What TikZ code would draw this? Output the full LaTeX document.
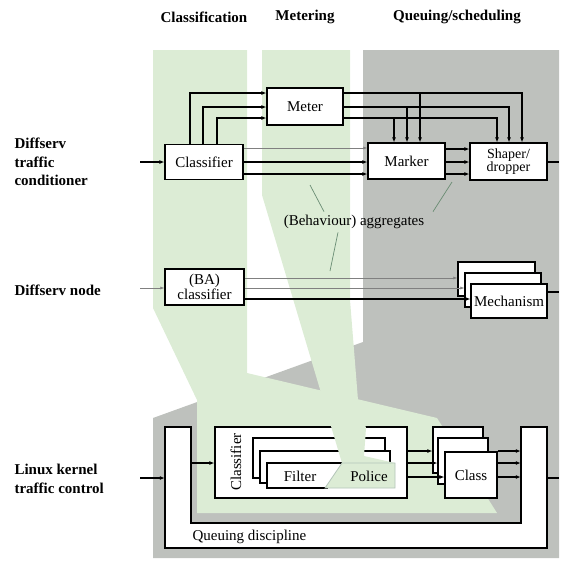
\documentclass[tikz,border=0pt]{standalone}
\usepackage{fontspec}
\setmainfont{Liberation Serif}
\usetikzlibrary{arrows.meta}
\definecolor{bandgreen}{RGB}{220,236,213}
\definecolor{bandgray}{RGB}{190,193,189}
\definecolor{ptrgreen}{RGB}{105,140,115}

\begin{document}
\begin{tikzpicture}[x=1pt,y=-1pt,
  font=\fontsize{15}{16}\selectfont,
  box/.style={draw,line width=1.2pt,fill=white,inner sep=1pt},
  lbl/.style={font=\fontsize{15}{18.5}\selectfont\bfseries,align=left,anchor=west},
  ttl/.style={font=\fontsize{15}{16}\selectfont\bfseries},
  arr/.style={line width=1.2pt,-{Latex[length=5pt,width=4pt]}},
  farr/.style={line width=0.6pt,draw=gray,-{Latex[length=4pt,width=3pt]}},
  ptr/.style={ptrgreen,line width=0.7pt}]
\useasboundingbox (0,0) rectangle (562,560);

% bands
\fill[bandgray] (363,50) -- (559,50) -- (559,558) -- (153,558) -- (153,418) -- (363,342) -- cycle;
\fill[bandgreen] (153,50) -- (247,50) -- (247,373) -- (437,418) -- (497,513) -- (197,513) -- (197,400) -- (153,308) -- cycle;
\fill[bandgreen] (262,50) -- (350,50) -- (350,300) -- (358,400) -- (366,428) -- (364,456) -- (395,463) -- (342,463) -- (262,195) -- cycle;

\node[ttl] (tcl) at (204,17) {Classification};
\node[ttl] (tme) at (305,17) {Metering};
\node[ttl] (tqs) at (457,17) {Queuing/scheduling};

\node[lbl] (ldc) at (11,162) {Diffserv\\traffic\\conditioner};
\node[lbl] (ldn) at (11,290) {Diffserv node};
\node[lbl] (llk) at (11,479) {Linux kernel\\traffic control};

% traffic conditioner
\node[box,minimum width=78pt,minimum height=35pt] (cls) at (204,162) {Classifier};
\node[box,minimum width=76pt,minimum height=37pt] (meter) at (305,106.5) {Meter};
\node[box,minimum width=77pt,minimum height=36pt] (mark) at (406.5,161) {Marker};
\node[box,minimum width=77pt,minimum height=37pt,align=center,
  font=\fontsize{14}{12}\selectfont] (shaper) at (508.5,161.5) {Shaper/\\dropper};

\draw[arr] (cls.north -| 190,0) |- (meter.west |- 0,93);
\draw[arr] (cls.north -| 203,0) |- (meter.west |- 0,107);
\draw[arr] (cls.north -| 217,0) |- (meter.west |- 0,118);
\draw[arr] (meter.east |- 0,93) -| (shaper.north -| 522,0);
\draw[arr] (meter.east |- 0,107) -| (shaper.north -| 509,0);
\draw[arr] (meter.east |- 0,118) -| (shaper.north -| 497,0);
\coordinate (j1) at (420,93);
\coordinate (j2) at (407,107);
\coordinate (j3) at (394,118);
\draw[arr] (j1) -- (mark.north -| j1);
\draw[arr] (j2) -- (mark.north -| j2);
\draw[arr] (j3) -- (mark.north -| j3);

\draw[farr] (cls.east |- 0,148) -- (mark.west |- 0,148);
\draw[arr] (cls.east |- 0,162) -- (mark.west |- 0,162);
\draw[arr] (cls.east |- 0,174) -- (mark.west |- 0,174);
\draw[arr] (mark.east |- 0,149) -- (shaper.west |- 0,149);
\draw[arr] (mark.east |- 0,162) -- (shaper.west |- 0,162);
\draw[arr] (mark.east |- 0,174) -- (shaper.west |- 0,174);
\coordinate (in1) at (140,162);
\coordinate (out1) at (559,162);
\draw[arr] (in1) -- (cls);
\draw[line width=1.2pt] (shaper.east |- out1) -- (out1);

\node (agg) at (354,222) {(Behaviour) aggregates};
\coordinate (p1) at (310,185);
\coordinate (p2) at (452,182);
\coordinate (p3) at (330,271);
\draw[ptr] (agg.north -| 324,0) -- (p1);
\draw[ptr] (agg.north -| 433,0) -- (p2);
\draw[ptr] (agg.south -| 338,0) -- (p3);

% diffserv node
\node[box,minimum width=79pt,minimum height=36pt,align=center,
  font=\fontsize{15}{13}\selectfont] (bacls) at (204.5,287) {(BA)\\classifier};
\node[box,minimum width=77pt,minimum height=34pt] (mech1) at (496.5,279) {};
\node[box,minimum width=76pt,minimum height=34pt] (mech2) at (503,290) {};
\node[box,minimum width=76pt,minimum height=34pt] (mech3) at (509,301) {Mechanism};
\coordinate (in2) at (140,288);
\coordinate (out2) at (559,292);
\draw[farr] (in2) -- (bacls.west |- in2);
\draw[farr] (bacls.east |- 0,278) -- (mech1.west |- 0,278);
\draw[farr] (bacls.east |- 0,288) -- (mech2.west |- 0,288);
\draw[arr] (bacls.east |- 0,299) -- (mech3.west |- 0,299);
\draw[line width=1.2pt] (mech3.east |- out2) -- (out2);

% linux traffic control
\draw[line width=1.2pt,fill=white] (165,427) -- (191,427) -- (191,523) -- (521,523)
  -- (521,427) -- (547,427) -- (547,548) -- (165,548) -- cycle;
\node[minimum width=26pt,minimum height=96pt,inner sep=0] (qpl) at (178,475) {};
\node[minimum width=26pt,minimum height=96pt,inner sep=0] (qpr) at (534,475) {};
\node[anchor=west] (qd) at (189,537) {Queuing discipline};

\node[box,minimum width=192pt,minimum height=71pt] (bigcls) at (311,462.5) {};
\node[rotate=90] (clsv) at (236,462) {Classifier};
\node[box,minimum width=132pt,minimum height=40pt] (flt1) at (319,458) {};
\node[box,minimum width=130pt,minimum height=32pt] (flt2) at (325,467) {};
\fill[white] (267,463) rectangle (345,488);
\draw[line width=1.2pt] (345,463) -- (267,463) -- (267,488) -- (328,488);

\node[box,minimum width=50pt,minimum height=46pt] (cl1) at (458,450) {};
\node[box,minimum width=50pt,minimum height=46pt] (cl2) at (463,461) {};
\node[box,minimum width=52pt,minimum height=46pt] (cl3) at (471,475) {Class};

\coordinate (in3) at (140,478);
\coordinate (out3) at (559,478);
\draw[arr] (in3) -- (qpl.west |- in3);
\draw[arr] (qpl.east |- 0,463) -- (bigcls.west |- 0,463);
\draw[arr] (bigcls.east |- 0,451) -- (cl1.west |- 0,451);
\draw[arr] (bigcls.east |- 0,463) -- (cl2.west |- 0,463);
\draw[arr] (bigcls.east |- 0,477) -- (cl3.west |- 0,477);
\draw[arr] (cl3.east |- 0,451) -- (qpr.west |- 0,451);
\draw[arr] (cl3.east |- 0,463) -- (qpr.west |- 0,463);
\draw[arr] (cl3.east |- 0,477) -- (qpr.west |- 0,477);
\draw[line width=1.2pt] (qpr.east |- out3) -- (out3);

% metering band over the classifier
\begin{scope}
\clip (300,420) rectangle (420,470);
\fill[bandgreen] (262,50) -- (350,50) -- (350,300) -- (358,400) -- (366,428) -- (364,456) -- (395,463) -- (342,463) -- (262,195) -- cycle;
\end{scope}
\draw[fill=bandgreen,draw=ptrgreen!50,line width=0.8pt] (325,488) -- (342,463) -- (395,463) -- (395,488) -- cycle;
\node (flt) at (300,476) {Filter};
\node (pol) at (369,476) {Police};
\end{tikzpicture}
\end{document}
